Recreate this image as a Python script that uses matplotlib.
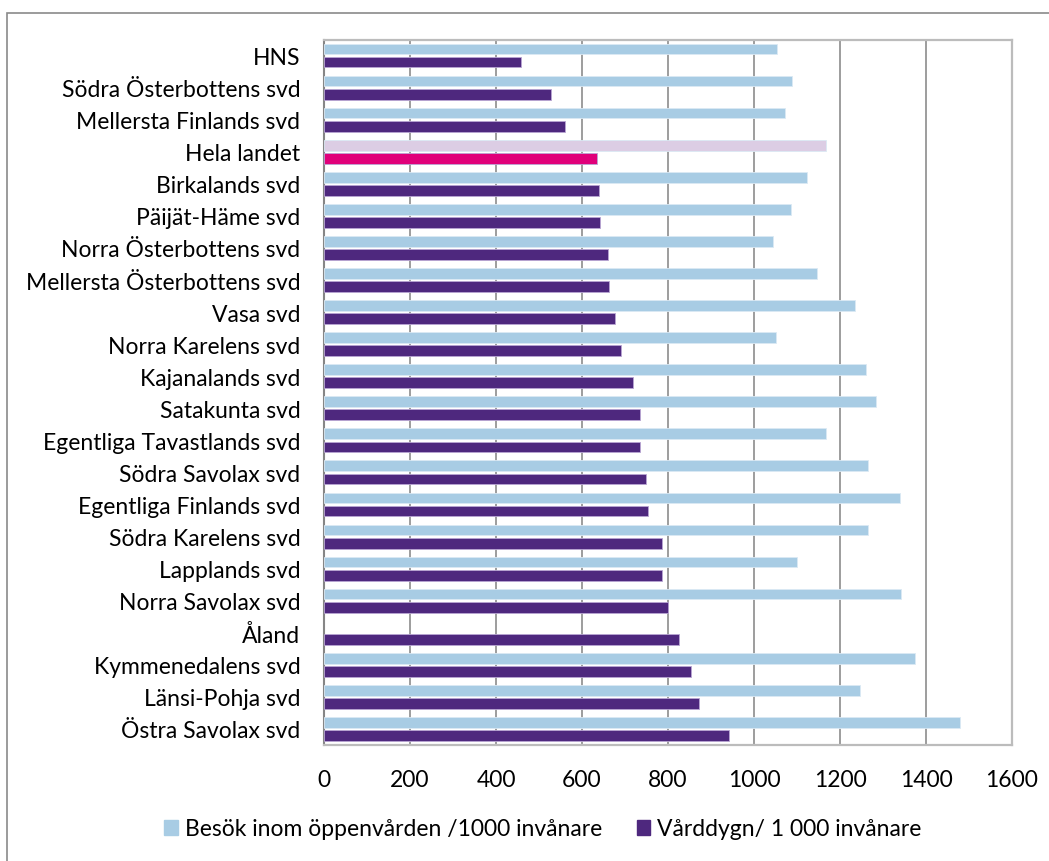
import numpy as np
import matplotlib
matplotlib.use('Agg')
import matplotlib.pyplot as plt
from matplotlib.patches import Rectangle, Patch

plt.rcParams['font.family'] = ['Lato', 'DejaVu Sans']

# Regioner, uppifrån och ned som i originalet
regions = ['HNS', 'Södra Österbottens svd', 'Mellersta Finlands svd', 'Hela landet',
           'Birkalands svd', 'Päijät-Häme svd', 'Norra Österbottens svd',
           'Mellersta Österbottens svd', 'Vasa svd', 'Norra Karelens svd',
           'Kajanalands svd', 'Satakunta svd', 'Egentliga Tavastlands svd',
           'Södra Savolax svd', 'Egentliga Finlands svd', 'Södra Karelens svd',
           'Lapplands svd', 'Norra Savolax svd', 'Åland', 'Kymmenedalens svd',
           'Länsi-Pohja svd', 'Östra Savolax svd']

besok = [1054, 1088, 1073, 1167, 1124, 1087, 1044, 1146, 1234, 1052, 1260,
         1284, 1167, 1266, 1339, 1264, 1099, 1343, np.nan, 1375, 1247, 1478]
varddygn = [457, 529, 561, 636, 639, 641, 660, 663, 677, 691, 719,
            736, 736, 748, 754, 785, 787, 800, 825, 854, 871, 941]

series_names = ['Besök inom öppenvården /1000 invånare', 'Vårddygn/ 1 000 invånare']

c_light = '#A8CCE4'
c_dark = '#4E287E'
c_light_hl = '#DCCDE4'
c_dark_hl = '#E0007A'

W, H = 1049, 862
fig = plt.figure(figsize=(W / 100, H / 100), dpi=100)
ax = fig.add_axes([324 / W, (H - 746) / H, 688 / W, (746 - 40.5) / H])

n = len(regions)
y = np.arange(n)
light_colors = [c_light_hl if r == 'Hela landet' else c_light for r in regions]
dark_colors = [c_dark_hl if r == 'Hela landet' else c_dark for r in regions]

ax.barh(y - 0.205, besok, height=0.335, color=light_colors,
        edgecolor='#dbe9f4', linewidth=0.6, zorder=3)
ax.barh(y + 0.205, varddygn, height=0.335, color=dark_colors,
        edgecolor='#b9a6d3', linewidth=0.6, zorder=3)

ax.set_ylim(n - 0.5, -0.5)
ax.set_yticks(y)
ax.set_yticklabels(regions)
ax.set_xlim(0, 1600)
ax.set_xticks(np.arange(0, 1601, 200))

ax.tick_params(axis='both', length=0, labelsize=16.5, colors='black')
ax.tick_params(axis='y', pad=17)
ax.tick_params(axis='x', pad=17)

ax.grid(axis='x', color='#8c8c8c', linewidth=1.2)
ax.set_axisbelow(True)

ax.spines['left'].set_color('#868686')
ax.spines['left'].set_linewidth(1.5)
for s in ['top', 'right', 'bottom']:
    ax.spines[s].set_color('#bcbcbc')
    ax.spines[s].set_linewidth(1.6)

handles = [Patch(color=c_light), Patch(color=c_dark)]
fig.legend(handles, series_names, loc='center', bbox_to_anchor=(543 / W, (H - 830) / H),
           ncol=2, frameon=False, fontsize=16.5, handlelength=0.6, handleheight=0.6,
           handletextpad=0.3, columnspacing=1.5)

# yttre ram runt diagrammet
fig.add_artist(Rectangle((7 / W, -0.1), 1.2, 0.1 + (H - 14) / H, transform=fig.transFigure,
                         fill=False, edgecolor='#8a8a8a', linewidth=1.2))

fig.savefig('out.png', dpi=100)
